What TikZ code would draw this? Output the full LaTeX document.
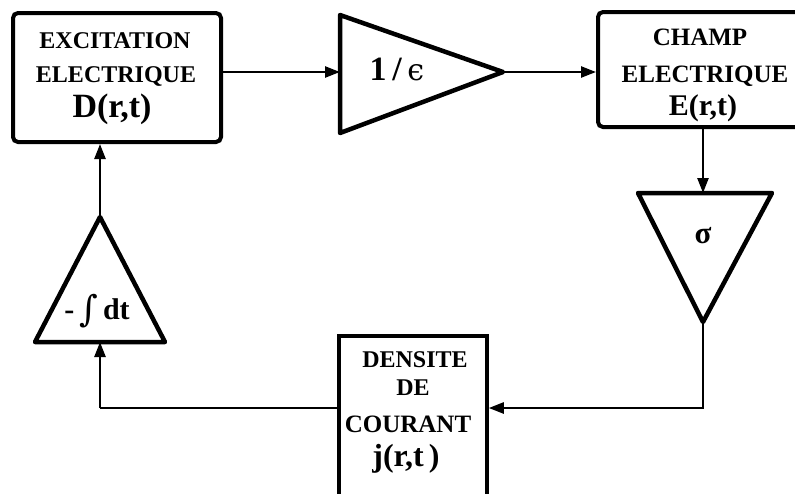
\documentclass[tikz,border=0pt]{standalone}
\usepackage{fontspec}
\setmainfont{Liberation Serif}
\newfontfamily\glyphfont{DejaVu Serif}
\usetikzlibrary{arrows.meta}
\begin{document}
\begin{tikzpicture}[x=1pt,y=-1pt,
  blockbox/.style={draw=black,line width=4pt,inner sep=0pt},
  gain/.style={draw=black,line width=4.5pt,line join=round},
  wire/.style={draw=black,line width=2.4pt},
  flow/.style={wire,-{Triangle[length=15pt,width=11pt]}},
  lbl/.style={anchor=base,inner sep=0pt,font=\bfseries\fontsize{24}{24}\selectfont},
  big/.style={anchor=base,inner sep=0pt,font=\bfseries\fontsize{34}{34}\selectfont}]
\useasboundingbox (0,0) rectangle (795,493);
\clip (0,0) rectangle (795,493);

% blocks
\node[blockbox,rounded corners=5pt,minimum width=208pt,minimum height=129pt] (box1) at (117,77.5) {};
\node[blockbox,rounded corners=5pt,minimum width=222pt,minimum height=115pt] (box2) at (709,69.5) {};
\node[blockbox,line width=3.5pt,minimum width=148pt,minimum height=180pt] (box3) at (413,426) {};

% gain triangles
\coordinate (tipA) at (503,72);
\draw[gain] (340,15) -- (340,133) -- (tipA) -- cycle;
\coordinate (inA) at (340,72);
\coordinate (topS) at (703,193);
\coordinate (tipS) at (703,322);
\draw[gain] (638,193) -- (772,193) -- (tipS) -- cycle;
\coordinate (baseB) at (100,342);
\coordinate (apexB) at (100,217);
\draw[gain] (35,342) -- (165,342) -- (apexB) -- cycle;

% labels
\node[lbl] (t1a) at (115,48) {EXCITATION};
\node[lbl] (t1b) at (116,82) {ELECTRIQUE};
\node[big] (t1c) at (112,117) {D(r,t)};
\node[lbl,font=\bfseries\fontsize{25}{25}\selectfont] (t2a) at (700,45) {CHAMP};
\node[lbl,font=\bfseries\fontsize{25}{25}\selectfont] (t2b) at (705,82) {ELECTRIQUE};
\node[big,font=\bfseries\fontsize{30}{30}\selectfont] (t2c) at (703,115) {E(r,t)};
\node[lbl] (t3a) at (415,367) {DENSITE};
\node[lbl] (t3b) at (413,395) {DE};
\node[lbl,font=\bfseries\fontsize{25}{25}\selectfont] (t3c) at (408,432) {COURANT};
\node[big,font=\bfseries\fontsize{32}{32}\selectfont] (t3d) at (406,466) {j(r,t\,)};
\node[big] (gA) at (397,80) {1\,/\,{\glyphfont\mdseries\fontsize{30}{30}\selectfont ϵ}};
\node[anchor=base,inner sep=0pt,font=\bfseries\fontsize{31}{31}\selectfont] (gS) at (703,243) {σ};
\node[anchor=base,inner sep=0pt,font=\bfseries\fontsize{30}{30}\selectfont] (gB) at (97,319) {-\,{\glyphfont\mdseries\fontsize{36}{36}\selectfont\raisebox{-2pt}{∫}}\,dt};

% connectors
\draw[flow] (box1.east |- inA) -- (inA);
\draw[flow] (tipA) -- (tipA -| box2.west);
\draw[flow] (box2.south -| topS) -- (topS);
\coordinate (bendR) at (703,408);
\draw[flow] (tipS) -- (bendR) -- (bendR -| box3.east);
\coordinate (bendL) at (100,408);
\draw[wire] (bendL -| box3.west) -- (bendL);
\draw[flow] (bendL) -- (baseB);
\draw[flow] (apexB) -- (apexB |- box1.south);
\end{tikzpicture}
\end{document}
